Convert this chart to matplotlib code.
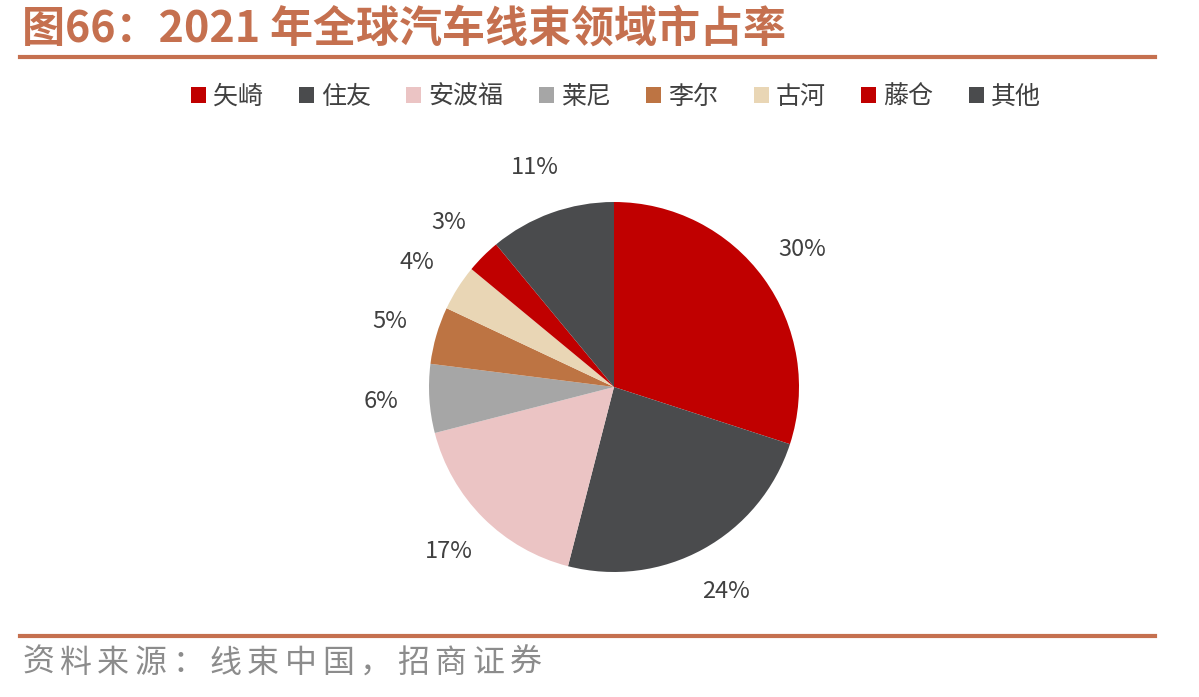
import matplotlib
matplotlib.use("Agg")
import matplotlib.pyplot as plt
from matplotlib.patches import Patch

plt.rcParams['font.family'] = ['Noto Sans CJK SC', 'DejaVu Sans']

companies = ['矢崎', '住友', '安波福', '莱尼', '李尔', '古河', '藤仓', '其他']
shares = [30, 24, 17, 6, 5, 4, 3, 11]
colors = ['#C00000', '#4A4B4D', '#EBC4C4', '#A6A6A6', '#BD7443', '#E9D6B5', '#C00000', '#4A4B4D']
pct_labels = [f'{v}%' for v in shares]

title = '图66：2021 年全球汽车线束领域市占率'
source = '资料来源：线束中国，招商证券'
accent = '#C5704F'

fig = plt.figure(figsize=(11.99, 6.97), dpi=100)

# title and rules
fig.text(22 / 1199, 1 - 29 / 697, title, fontsize=31, fontweight='bold',
         color=accent, va='center', ha='left')
fig.add_artist(plt.Line2D([20 / 1199, 1155 / 1199], [1 - 57 / 697] * 2,
                          color=accent, lw=3))
fig.add_artist(plt.Line2D([20 / 1199, 1155 / 1199], [1 - 636 / 697] * 2,
                          color=accent, lw=3))
# source line, spaced out like the original
for i, ch in enumerate(source):
    fig.text((22 + i * 37.5) / 1199, 1 - 663 / 697, ch, fontsize=23,
             color='#8C8C8C', va='center', ha='left', fontweight='light')

# pie
cx, cy, r = 614, 387, 185
ax = fig.add_axes([(cx - r) / 1199, (697 - cy - r) / 697, 2 * r / 1199, 2 * r / 697])
wedges, texts = ax.pie(shares, colors=colors, startangle=90, counterclock=False,
                       labels=pct_labels, labeldistance=1.26,
                       wedgeprops=dict(linewidth=0),
                       textprops=dict(fontsize=17, color='#404040'))
for t in texts:
    t.set_ha('center')
    t.set_va('center')
ax.set_xlim(-1, 1)
ax.set_ylim(-1, 1)
ax.axis('off')

handles = [Patch(facecolor=c, edgecolor='none') for c in colors]
fig.legend(handles, companies, loc='center', bbox_to_anchor=(616 / 1199, 1 - 97 / 697),
           ncol=8, frameon=False, fontsize=18, handlelength=0.6, handleheight=0.6,
           handletextpad=0.3, columnspacing=1.4, labelcolor='#404040')

fig.savefig('out.png', dpi=100)
